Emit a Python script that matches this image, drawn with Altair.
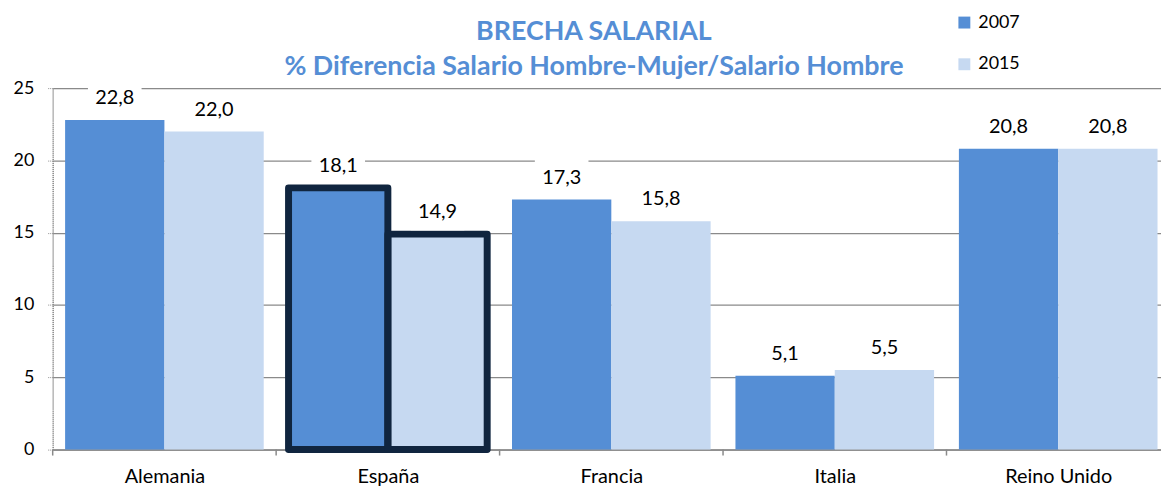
import json
import altair as alt
import pandas as pd

paises = ["Alemania", "España", "Francia", "Italia", "Reino Unido"]
anios = ["2007", "2015"]
v2007 = [22.8, 18.1, 17.3, 5.1, 20.8]
v2015 = [22.0, 14.9, 15.8, 5.5, 20.8]
titulo = ["BRECHA SALARIAL", "% Diferencia Salario Hombre-Mujer/Salario Hombre"]
resaltado = "España"

C2007 = "#558ED5"
C2015 = "#C6D9F1"
NAVY = "#10253F"
FONT = "Lato"

rows = []
for p, a, b in zip(paises, v2007, v2015):
    rows.append({"pais": p, "anio": "2007", "valor": a})
    rows.append({"pais": p, "anio": "2015", "valor": b})
df = pd.DataFrame(rows)
df["etiqueta"] = df["valor"].map(lambda v: f"{v:.1f}".replace(".", ","))

W, H = 1116, 364
STEP = 225.0          # px per country group
BARW = 100            # px per bar
half = BARW / STEP    # one bar, in group units

P_JS = json.dumps(paises, ensure_ascii=False)
A_JS = json.dumps(anios)
idx_expr = f"indexof({P_JS}, datum.pais)"
xc_expr = f"{idx_expr} + 0.5 + (indexof({A_JS}, datum.anio) - 0.5) * {half}"

xscale = alt.Scale(domain=[0, W / STEP], nice=False, zero=False, padding=0)
xaxis = alt.Axis(values=[i + 0.5 for i in range(len(paises))],
                 labelExpr=f"{P_JS}[floor(datum.value)]",
                 labelAngle=0, labelFont=FONT, labelFontSize=20, labelColor="#000000",
                 labelPadding=17, ticks=False, domainColor="#8a8a8a", domainWidth=1.5,
                 grid=False, labelOverlap=False, labelBound=False, labelFlush=False)
xenc = alt.X("xc:Q", title=None, scale=xscale, axis=xaxis)

yenc = alt.Y("valor:Q", title=None,
             scale=alt.Scale(domain=[0, 25], nice=False),
             axis=alt.Axis(values=[0, 5, 10, 15, 20, 25], labelFont=FONT, labelFontSize=18,
                           labelColor="#000000", labelPadding=14, tickSize=5,
                           tickColor="#8a8a8a", tickDash=[1, 1], domainColor="#8a8a8a",
                           domainDash=[1, 1], domainWidth=1.5,
                           grid=True, gridColor="#8a8a8a", gridWidth=1.3))

base = alt.Chart(df).transform_calculate(xc=xc_expr)

bars = base.mark_bar(size=BARW).encode(
    x=xenc, y=yenc,
    color=alt.Color("anio:N", sort=anios,
                    scale=alt.Scale(domain=anios, range=[C2007, C2015]),
                    legend=alt.Legend(title=None, orient="none", legendX=909, legendY=-75,
                                      symbolType="square", symbolSize=144, symbolStrokeWidth=0,
                                      labelFont=FONT, labelFontSize=18, labelColor="#000000",
                                      labelOffset=5, rowPadding=24, padding=0)),
)

outline = base.transform_filter(alt.datum.pais == resaltado).mark_bar(
    size=BARW, fillOpacity=0, stroke=NAVY, strokeWidth=7, strokeJoin="round"
).encode(x=xenc, y=yenc)

cajas = base.mark_point(
    shape="M-1,-0.667H1V0.667H-1Z", size=2916, filled=True, fill="white",
    opacity=1, strokeWidth=0, yOffset=-22
).encode(x=xenc, y=yenc)

textos = base.mark_text(font=FONT, fontSize=20, color="#000000", baseline="middle", dy=-22).encode(
    x=xenc, y=yenc, text="etiqueta:N")

ticks = alt.Chart(pd.DataFrame({"pais": paises})).transform_calculate(
    xc=idx_expr).mark_rule(color="#8a8a8a", strokeWidth=1.5).encode(
    x=xenc,
    y=alt.value(H), y2=alt.value(H + 6))

tdf = pd.DataFrame({"linea": titulo, "ypix": [-56, -21]})
titulo_layer = alt.Chart(tdf).mark_text(
    font=FONT, fontSize=27, fontWeight="bold", color=C2007, baseline="middle", align="center"
).encode(
    x=alt.value(545), y=alt.Y("ypix:Q", scale=None), text="linea:N")

chart = alt.layer(bars, outline, cajas, textos, ticks, titulo_layer).properties(
    width=W, height=H,
    autosize=alt.AutoSizeParams(type="none"),
    padding={"left": 45, "top": 79, "right": 0, "bottom": 36},
).configure_view(stroke=None, clip=False).configure(background="white")

chart.save("out.html", embed_options={"renderer": "svg", "actions": False})
